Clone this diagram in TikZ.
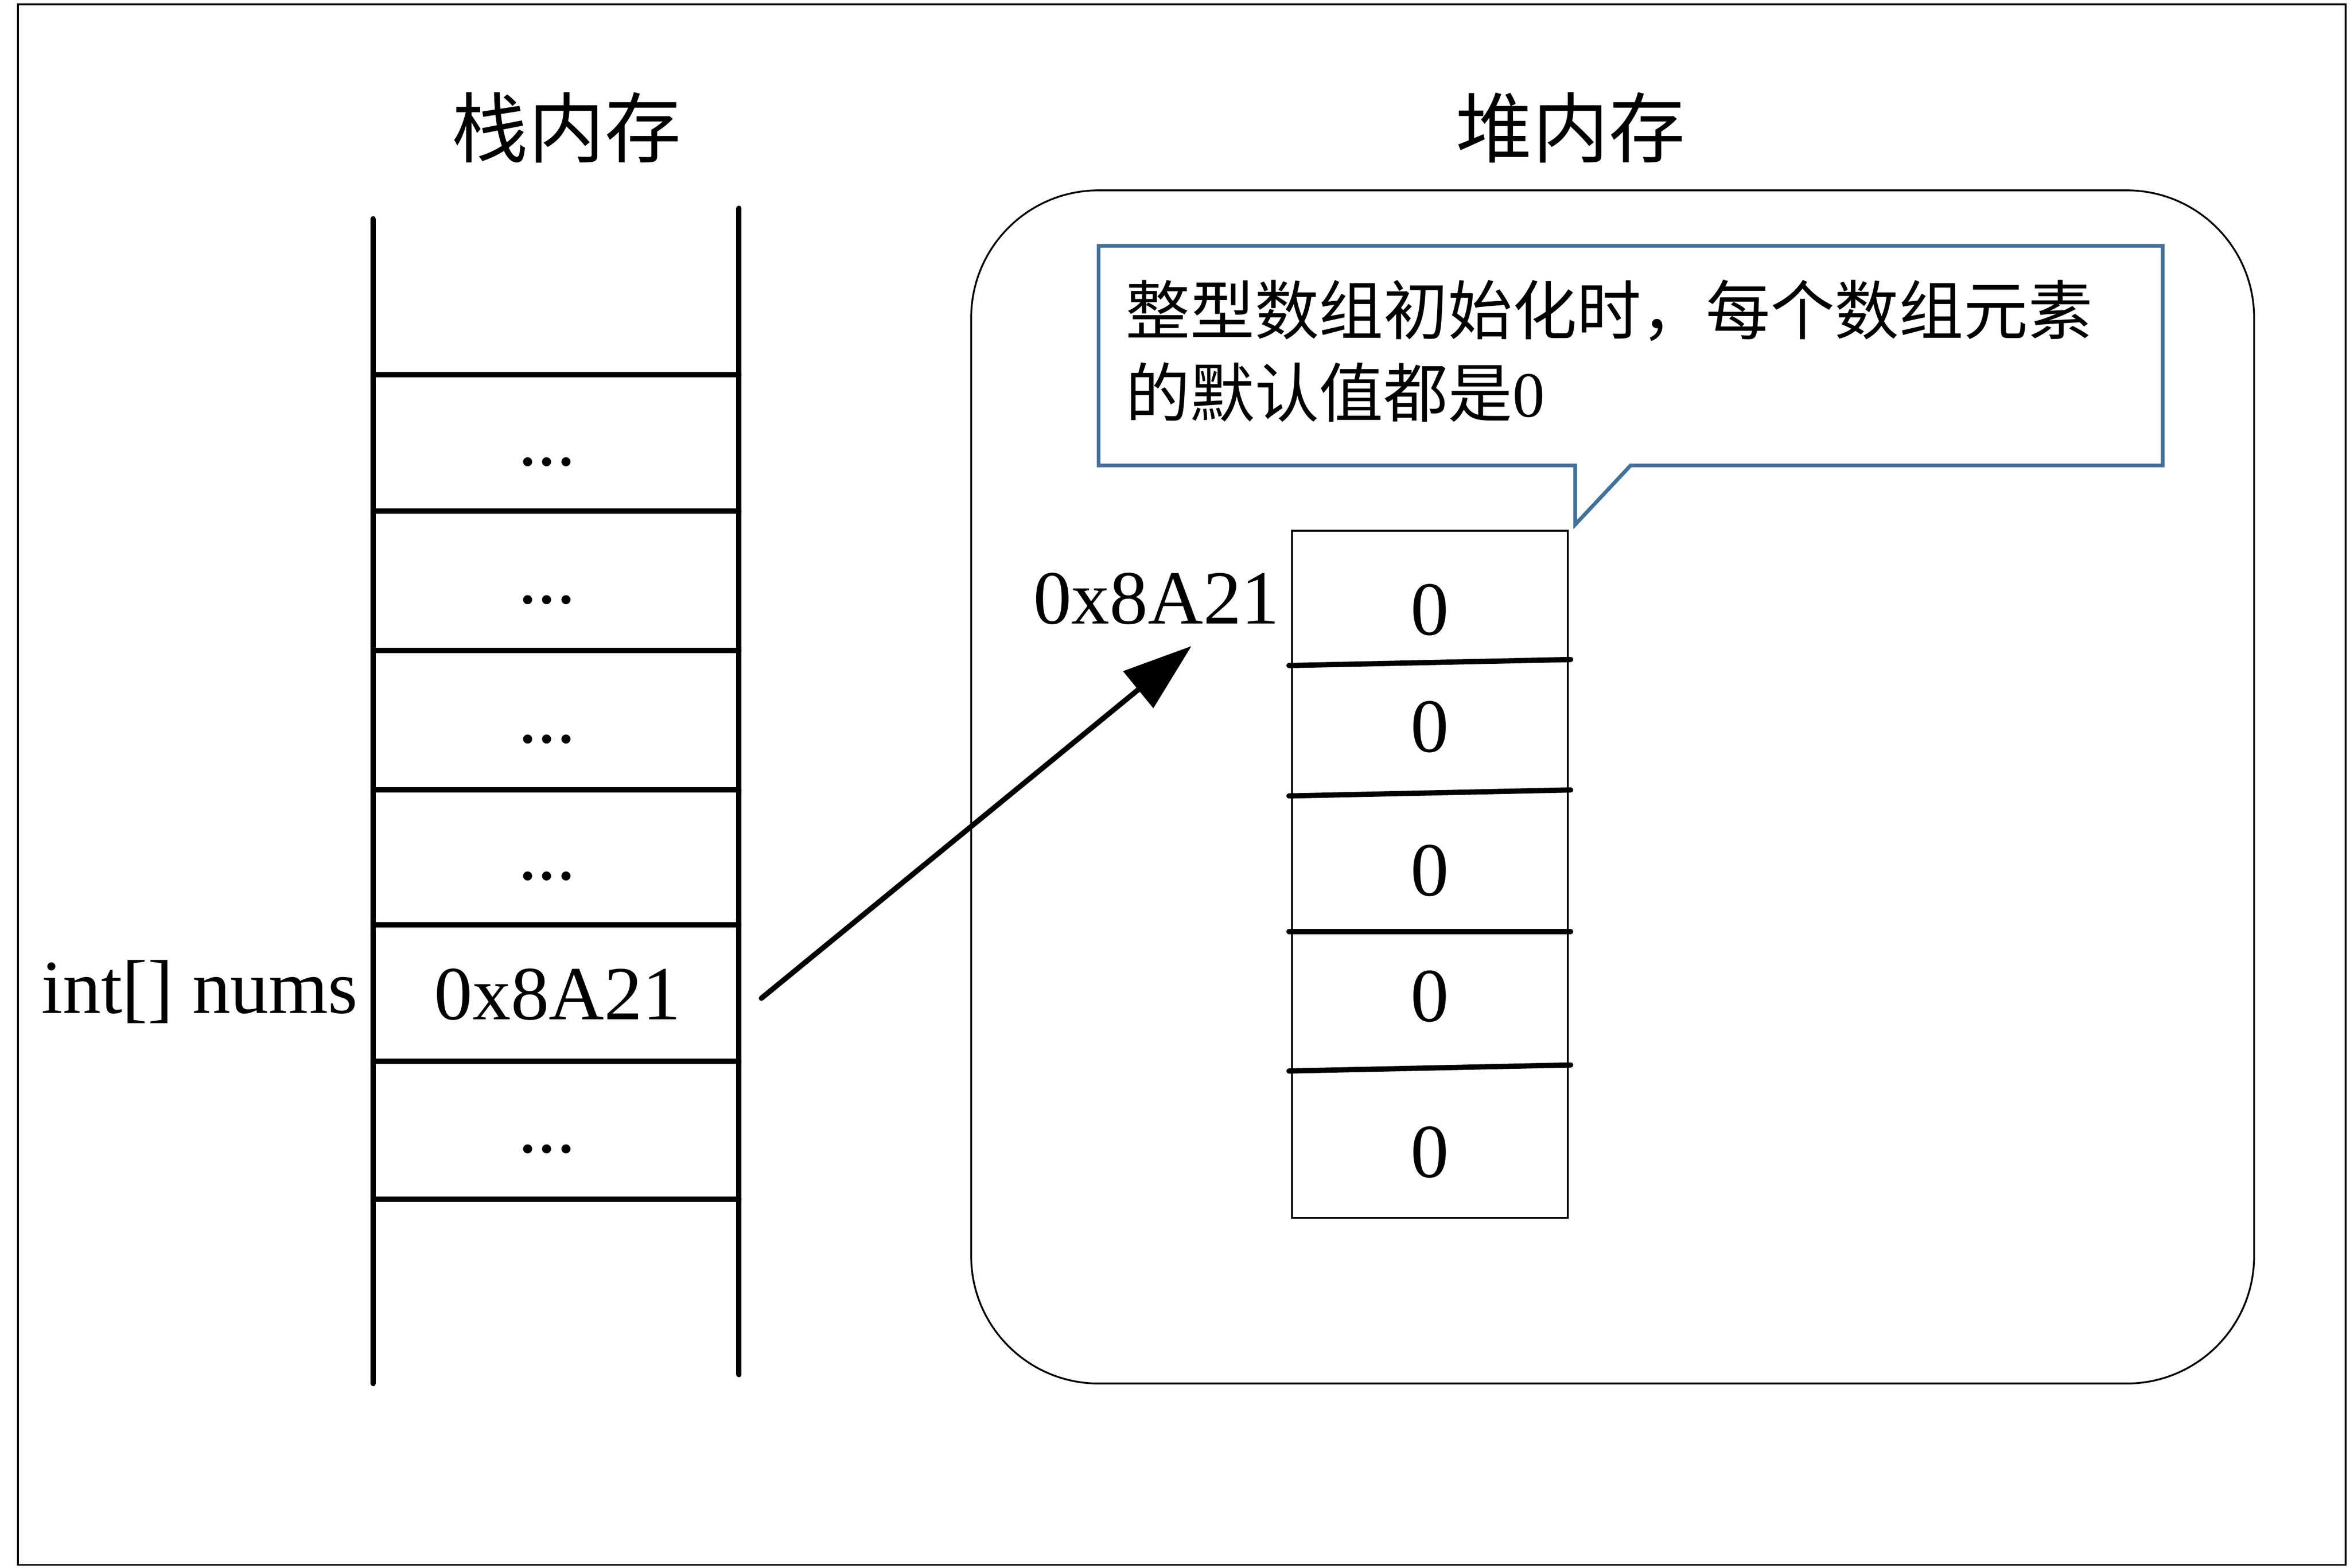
\documentclass[tikz,border=0pt]{standalone}
\usepackage{fontspec}
\setmainfont{Liberation Serif}
\newfontfamily\cjk{Noto Sans CJK SC}
\usetikzlibrary{arrows.meta}
\definecolor{callblue}{HTML}{41719C}
\tikzset{
  frame/.style={line width=1.2pt},
  stk/.style={line width=3.6pt, line cap=round},
  title/.style={font=\cjk\fontsize{51}{60}\selectfont, inner sep=0pt},
  txt/.style={font=\fontsize{51}{60}\selectfont, inner sep=0pt},
  calltxt/.style={font=\cjk\fontsize{43}{50}\selectfont, inner sep=0pt, anchor=base west},
  divider/.style={line width=3.5pt, line cap=round},
  ptr/.style={line width=3.5pt, line cap=round, -{Triangle[length=46pt,width=31pt]}},
}
\begin{document}
\begin{tikzpicture}[x=1pt,y=-1pt]
\useasboundingbox (0,0) rectangle (1568,1046);
\draw[frame] (12,3) rectangle (1565,1044);

% titles
\node[title] (stitle) at (378,85) {栈内存};
\node[title] (htitle) at (1048,85) {堆内存};

% stack
\draw[stk] (249,146) -- (249,923);
\draw[stk] (493,139) -- (493,917);
\foreach \y in {250,341,434,527,617,708,800}
  \draw[stk] (249,\y) -- (493,\y);
\foreach \y/\n in {310.5/d1,402.5/d2,495.5/d3,587/d4,769/d5}
  \node[txt, anchor=base] (\n) at (365,\y) {...};
\node[txt, anchor=base] (sval) at (372,680) {0x8A21};
\node[txt, anchor=base east] (svar) at (239,676) {int[] nums};

% heap
\draw[frame, rounded corners=85pt] (648,127) rectangle (1504,923);

% callout
\draw[callblue, line width=2.5pt, line join=miter]
  (733,164) -- (1443,164) -- (1443,310.5) -- (1088,310.5) -- (1051,350)
  -- (1051,310.5) -- (733,310.5) -- cycle;
\node[calltxt] (c1) at (751,223) {整型数组初始化时，每个数组元素};
\node[calltxt] (c2) at (751,278) {的默认值都是\rmfamily 0};

% array
\draw[frame, fill=white] (862,354) rectangle (1046,812.5);
\draw[divider] (860,444) -- (1048,440);
\draw[divider] (860,531) -- (1048,527);
\draw[divider] (860,621.5) -- (1048,621.5);
\draw[divider] (860,714.5) -- (1048,710.5);
\foreach \y/\n in {423.5/z1,501.5/z2,597.5/z3,681.5/z4,785.5/z5}
  \node[txt, anchor=base] (\n) at (954,\y) {0};
\node[txt, anchor=base east] (haddr) at (854,416) {0x8A21};

% pointer
\coordinate (pstart) at (508,666);
\coordinate (pend) at (795,431);
\draw[ptr] (pstart) -- (pend);
\end{tikzpicture}
\end{document}
